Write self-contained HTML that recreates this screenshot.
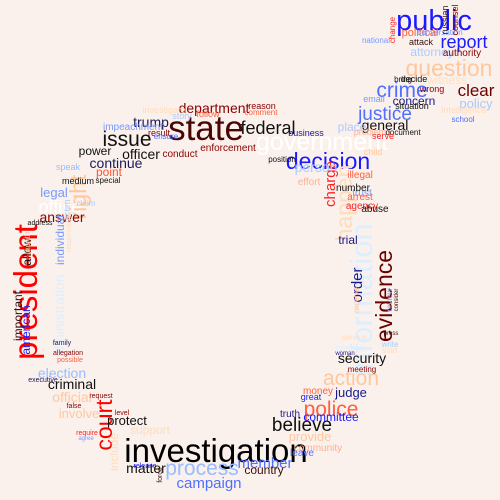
<!DOCTYPE html>
<html><head><meta charset="utf-8"><style>
html,body{margin:0;padding:0;background:#fbf1ec;}
svg{display:block;font-family:"Liberation Sans",sans-serif;}
</style></head><body>
<svg width="500" height="500">
<rect width="500" height="500" fill="#fbf1ec"/>
<g id="words" text-anchor="middle"></g>
</svg>
<script>
// [word, center x, baseline y, font size, color, rotation]
const rows = [
["state",206,140,35,"#4a0505",0],
["investigation",216,462,33,"#000000",0],
["president",37,292,33,"#ff0000",-90],
["evidence",392,296,23,"#6b0000",-90],
["information",372,300,31,"#ddeeff",-90],
["government",322,150,25,"#ffffff",0],
["decision",328,169,23,"#1a1aff",0],
["public",434,30,29,"#1a1aff",0],
["report",464,48,18,"#1a1aff",0],
["question",449,76,23,"#ffc79e",0],
["crime",402,97,21,"#4f6fff",0],
["clear",476,96,17,"#6b0000",0],
["justice",385,120,19,"#4f6fff",0],
["concern",414,105,12,"#1a1a8a",0],
["policy",476,108,13,"#a8c8ff",0],
["federal",268,134,18,"#111111",0],
["department",214,113,14,"#8b0000",0],
["issue",127,146,21,"#111111",0],
["trump",151,127,14,"#1a1a5a",0],
["officer",141,159,14,"#111111",0],
["power",95,155,12,"#111111",0],
["continue",116,168,14,"#1a1a5a",0],
["conduct",180,157,10,"#8b0000",0],
["enforcement",228,151,10,"#8b0000",0],
["right",86,197,23,"#ffc79e",-90],
["point",109,176,12,"#ff5533",0],
["legal",54,197,13,"#7799ff",0],
["answer",62,222,14,"#8b0000",0],
["allow",31,252,12,"#111111",-90],
["court",112,425,23,"#ff0000",-90],
["official",72,402,14,"#ffc79e",0],
["criminal",72,389,14,"#111111",0],
["election",62,378,14,"#99bbff",0],
["involve",79,418,13,"#ffc79e",0],
["protect",127,425,13,"#111111",0],
["matter",146,473,14,"#111111",0],
["process",202,475,21,"#99bbff",0],
["campaign",209,488,15,"#4f6fff",0],
["member",265,468,15,"#4f6fff",0],
["believe",302,431,19,"#111111",0],
["police",331,416,21,"#ff6040",0],
["committee",331,421,12,"#1a1aff",0],
["judge",351,397,13,"#1a1a8a",0],
["action",351,385,21,"#ffc79e",0],
["security",362,363,14,"#111111",0],
["provide",310,441,13,"#ffc79e",0],
["order",362,285,15,"#1a1a8a",-90],
["happen",352,203,23,"#ffdcbc",-90],
["charge",335,184,15,"#ff2222",-90],
["person",316,172,14,"#aaccff",0],
["general",385,130,14,"#111111",0],
["place",352,131,12,"#aaccff",0],
["american",30,330,12,"#1a1aff",-90],
["important",22,316,12,"#3a1010",-90],
["administration",64,318,14,"#ddeeff",-90],
["office",60,213,18,"#ffffff",0],
["individual",64,240,12,"#7799ff",-90],
["attorney",432,56,12,"#aaccff",0],
["political",420,36,11,"#ff6040",0],
["authority",462,56,10,"#8b0000",0],
["witness",447,84,12,"#ffe0c0",0],
["trial",348,244,12,"#1a1a8a",0],
["support",150,434,12,"#ffdcbc",0],
["include",118,452,12,"#ffdcbc",-90],
["country",264,474,12,"#3a1010",0],
["truth",290,417,10,"#1a1a8a",0],
["money",318,394,10,"#ff6040",0],
["great",311,400,9,"#1a1aff",0],
["community",318,451,10,"#ffb090",0],
["leave",302,456,10,"#4f6fff",0],
["agency",362,209,10,"#ff2222",0],
["arrest",360,200,10,"#ff6040",0],
["trust",362,196,10,"#7799ff",0],
["number",353,191,10,"#111111",0],
["illegal",360,178,10,"#ff6040",0],
["abuse",375,212,10,"#111111",0],
["effort",309,185,10,"#ffb090",0],
["child",373,155,9,"#ffc79e",0],
["business",306,136,9,"#1a1a8a",0],
["position",282,162,8,"#111111",0],
["document",403,135,8,"#111111",0],
["problem",370,135,9,"#ffb090",0],
["serve",383,139,9,"#ff2222",0],
["situation",412,109,9,"#111111",0],
["email",374,102,9,"#7799ff",0],
["school",463,122,8,"#4f6fff",0],
["intelligence",464,113,9,"#ffdcbc",0],
["national",376,43,8,"#7799ff",0],
["attack",421,45,9,"#3a1010",0],
["conversation",440,35,8,"#7799ff",0],
["decide",414,82,9,"#111111",0],
["bring",403,82,8,"#111111",0],
["wrong",432,92,9,"#8b0000",0],
["reason",262,109,9,"#8b0000",0],
["comment",261,115,8,"#ff6040",0],
["impeachment",133,130,10,"#7799ff",0],
["investigate",164,113,9,"#ffdcbc",0],
["story",182,119,9,"#aaccff",0],
["result",159,136,9,"#8b0000",0],
["ensure",166,139,8,"#4f6fff",0],
["follow",208,117,9,"#ff6040",0],
["speak",68,170,9,"#99bbff",0],
["medium",78,184,9,"#111111",0],
["special",108,183,8,"#111111",0],
["victim",70,211,9,"#aaccff",-90],
["claim",86,206,8,"#aaccff",0],
["address",40,225,7,"#111111",0],
["month",30,243,8,"#ffc79e",-90],
["citizen",31,250,7,"#ff6040",-90],
["responsibility",71,232,7,"#ffdcbc",-90],
["family",62,345,7,"#1a1a5a",0],
["allegation",68,355,7,"#8b0000",0],
["possible",70,362,7,"#ff6040",0],
["executive",43,382,7,"#1a1a5a",0],
["request",101,398,7,"#8b0000",0],
["false",74,408,7,"#8b0000",0],
["level",122,415,7,"#8b0000",0],
["require",87,435,7,"#ff2222",0],
["agree",86,440,6,"#7799ff",0],
["release",145,468,7,"#1a1aff",0],
["force",162,475,7,"#3a1010",-90],
["meeting",362,372,8,"#8b0000",0],
["commit",350,351,9,"#ddeeff",0],
["woman",345,355,6,"#1a1a8a",0],
["service",354,340,8,"#ffdcbc",0],
["start",390,353,8,"#ffdcbc",0],
["write",390,347,8,"#aaccff",0],
["press",391,335,6,"#3a1010",0],
["consider",398,300,6,"#3a1010",-90],
["review",392,300,8,"#7799ff",-90],
["receive",359,300,8,"#ffc79e",-90],
["russian",448,20,9,"#3a1010",-90],
["counsel",458,20,9,"#8b0000",-90],
["change",395,30,8,"#ff2222",-90]
];
const g = document.getElementById('words');
for (let i = 0; i < rows.length; i++) {
  const r = rows[i];
  const t = document.createElementNS('http://www.w3.org/2000/svg', 'text');
  
  
  t.setAttribute('font-size', r[3]);
  t.setAttribute('fill', r[4]);
  t.setAttribute('transform', 'translate(' + r[1] + ',' + r[2] + ') rotate(' + r[5] + ')');
  t.textContent = r[0];
  g.appendChild(t);
}
</script>
</body></html>
